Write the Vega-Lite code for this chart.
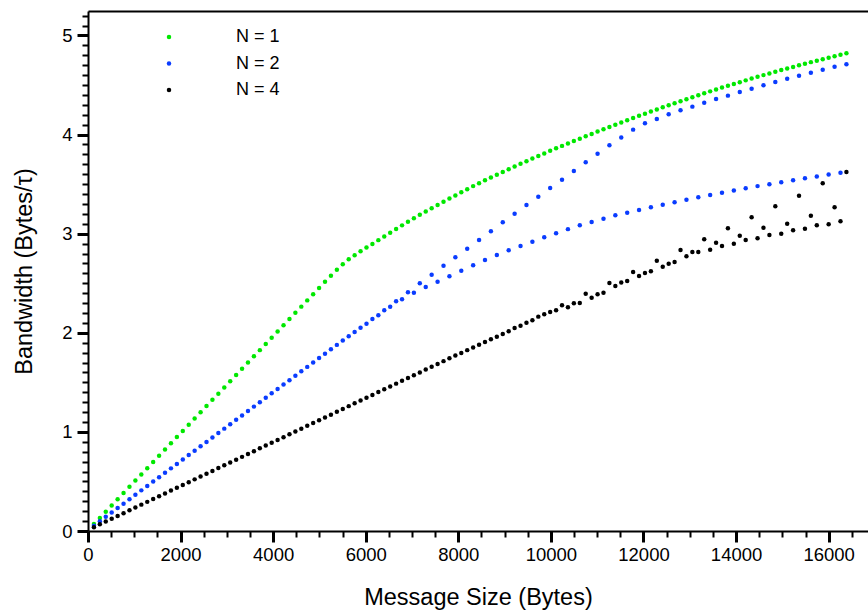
{
 "$schema": "https://vega.github.io/schema/vega-lite/v6.json",
 "width": 780, "height": 520,
 "autosize": {"type": "none"},
 "padding": {"left": 88, "top": 11, "right": 0, "bottom": 83},
 "background": "white",
 "config": {"view": {"stroke": null}, "font": "Liberation Sans"},
 "data": {"values": [
{"b":128,"n1":0.070,"n2":0.054,"n4":0.038},
{"b":256,"n1":0.132,"n2":0.098,"n4":0.067},
{"b":384,"n1":0.195,"n2":0.143,"n4":0.095},
{"b":512,"n1":0.258,"n2":0.187,"n4":0.124},
{"b":640,"n1":0.321,"n2":0.232,"n4":0.152},
{"b":768,"n1":0.383,"n2":0.276,"n4":0.180},
{"b":896,"n1":0.446,"n2":0.321,"n4":0.209},
{"b":1024,"n1":0.509,"n2":0.365,"n4":0.237},
{"b":1152,"n1":0.571,"n2":0.410,"n4":0.266},
{"b":1280,"n1":0.634,"n2":0.454,"n4":0.294},
{"b":1408,"n1":0.697,"n2":0.499,"n4":0.322},
{"b":1536,"n1":0.759,"n2":0.543,"n4":0.351},
{"b":1664,"n1":0.822,"n2":0.588,"n4":0.379},
{"b":1792,"n1":0.885,"n2":0.632,"n4":0.408},
{"b":1920,"n1":0.948,"n2":0.677,"n4":0.436},
{"b":2048,"n1":1.010,"n2":0.721,"n4":0.464},
{"b":2176,"n1":1.073,"n2":0.766,"n4":0.493},
{"b":2304,"n1":1.136,"n2":0.810,"n4":0.521},
{"b":2432,"n1":1.198,"n2":0.855,"n4":0.550},
{"b":2560,"n1":1.261,"n2":0.899,"n4":0.578},
{"b":2688,"n1":1.324,"n2":0.944,"n4":0.606},
{"b":2816,"n1":1.386,"n2":0.988,"n4":0.635},
{"b":2944,"n1":1.449,"n2":1.033,"n4":0.663},
{"b":3072,"n1":1.512,"n2":1.077,"n4":0.692},
{"b":3200,"n1":1.575,"n2":1.122,"n4":0.720},
{"b":3328,"n1":1.637,"n2":1.166,"n4":0.748},
{"b":3456,"n1":1.700,"n2":1.211,"n4":0.777},
{"b":3584,"n1":1.763,"n2":1.255,"n4":0.805},
{"b":3712,"n1":1.825,"n2":1.300,"n4":0.834},
{"b":3840,"n1":1.888,"n2":1.344,"n4":0.862},
{"b":3968,"n1":1.951,"n2":1.389,"n4":0.890},
{"b":4096,"n1":2.013,"n2":1.433,"n4":0.919},
{"b":4224,"n1":2.076,"n2":1.478,"n4":0.947},
{"b":4352,"n1":2.139,"n2":1.522,"n4":0.976},
{"b":4480,"n1":2.202,"n2":1.567,"n4":1.004},
{"b":4608,"n1":2.264,"n2":1.611,"n4":1.032},
{"b":4736,"n1":2.327,"n2":1.656,"n4":1.061},
{"b":4864,"n1":2.390,"n2":1.700,"n4":1.089},
{"b":4992,"n1":2.452,"n2":1.745,"n4":1.118},
{"b":5120,"n1":2.514,"n2":1.789,"n4":1.146},
{"b":5248,"n1":2.576,"n2":1.834,"n4":1.174},
{"b":5376,"n1":2.637,"n2":1.878,"n4":1.203},
{"b":5504,"n1":2.691,"n2":1.923,"n4":1.231},
{"b":5632,"n1":2.742,"n2":1.965,"n4":1.260},
{"b":5760,"n1":2.782,"n2":2.007,"n4":1.288},
{"b":5888,"n1":2.822,"n2":2.050,"n4":1.316},
{"b":6016,"n1":2.860,"n2":2.092,"n4":1.345},
{"b":6144,"n1":2.897,"n2":2.140,"n4":1.373},
{"b":6272,"n1":2.935,"n2":2.178,"n4":1.402},
{"b":6400,"n1":2.972,"n2":2.228,"n4":1.430},
{"b":6528,"n1":3.010,"n2":2.262,"n4":1.458},
{"b":6656,"n1":3.047,"n2":2.318,"n4":1.487},
{"b":6784,"n1":3.084,"n2":2.338,"n4":1.515},
{"b":6912,"n1":3.120,"n2":2.409,"n4":1.544},
{"b":7040,"n1":3.156,"n2":2.404,"n4":1.572},
{"b":7168,"n1":3.190,"n2":2.500,"n4":1.600},
{"b":7296,"n1":3.224,"n2":2.462,"n4":1.629},
{"b":7424,"n1":3.257,"n2":2.586,"n4":1.657},
{"b":7552,"n1":3.290,"n2":2.516,"n4":1.686},
{"b":7680,"n1":3.322,"n2":2.676,"n4":1.714},
{"b":7808,"n1":3.354,"n2":2.571,"n4":1.742},
{"b":7936,"n1":3.386,"n2":2.762,"n4":1.770},
{"b":8064,"n1":3.418,"n2":2.627,"n4":1.797},
{"b":8192,"n1":3.449,"n2":2.849,"n4":1.825},
{"b":8320,"n1":3.480,"n2":2.681,"n4":1.852},
{"b":8448,"n1":3.510,"n2":2.936,"n4":1.880},
{"b":8576,"n1":3.539,"n2":2.735,"n4":1.907},
{"b":8704,"n1":3.567,"n2":3.024,"n4":1.934},
{"b":8832,"n1":3.595,"n2":2.785,"n4":1.961},
{"b":8960,"n1":3.623,"n2":3.115,"n4":1.988},
{"b":9088,"n1":3.651,"n2":2.832,"n4":2.015},
{"b":9216,"n1":3.678,"n2":3.202,"n4":2.048},
{"b":9344,"n1":3.705,"n2":2.876,"n4":2.072},
{"b":9472,"n1":3.732,"n2":3.290,"n4":2.102},
{"b":9600,"n1":3.758,"n2":2.919,"n4":2.126},
{"b":9728,"n1":3.784,"n2":3.373,"n4":2.163},
{"b":9856,"n1":3.810,"n2":2.963,"n4":2.187},
{"b":9984,"n1":3.836,"n2":3.461,"n4":2.210},
{"b":10112,"n1":3.861,"n2":3.004,"n4":2.228},
{"b":10240,"n1":3.886,"n2":3.545,"n4":2.277},
{"b":10368,"n1":3.911,"n2":3.046,"n4":2.257},
{"b":10496,"n1":3.935,"n2":3.633,"n4":2.298},
{"b":10624,"n1":3.959,"n2":3.085,"n4":2.300},
{"b":10752,"n1":3.983,"n2":3.721,"n4":2.395},
{"b":10880,"n1":4.007,"n2":3.118,"n4":2.354},
{"b":11008,"n1":4.031,"n2":3.807,"n4":2.390},
{"b":11136,"n1":4.054,"n2":3.151,"n4":2.405},
{"b":11264,"n1":4.077,"n2":3.892,"n4":2.502},
{"b":11392,"n1":4.100,"n2":3.186,"n4":2.472},
{"b":11520,"n1":4.123,"n2":3.971,"n4":2.508},
{"b":11648,"n1":4.145,"n2":3.212,"n4":2.523},
{"b":11776,"n1":4.167,"n2":4.050,"n4":2.614},
{"b":11904,"n1":4.189,"n2":3.240,"n4":2.573},
{"b":12032,"n1":4.211,"n2":4.115,"n4":2.604},
{"b":12160,"n1":4.233,"n2":3.266,"n4":2.620},
{"b":12288,"n1":4.254,"n2":4.157,"n4":2.728},
{"b":12416,"n1":4.275,"n2":3.293,"n4":2.667},
{"b":12544,"n1":4.296,"n2":4.205,"n4":2.697},
{"b":12672,"n1":4.317,"n2":3.317,"n4":2.714},
{"b":12800,"n1":4.337,"n2":4.245,"n4":2.836},
{"b":12928,"n1":4.357,"n2":3.343,"n4":2.772},
{"b":13056,"n1":4.377,"n2":4.282,"n4":2.815},
{"b":13184,"n1":4.397,"n2":3.367,"n4":2.815},
{"b":13312,"n1":4.417,"n2":4.322,"n4":2.943},
{"b":13440,"n1":4.436,"n2":3.391,"n4":2.839},
{"b":13568,"n1":4.455,"n2":4.359,"n4":2.909},
{"b":13696,"n1":4.474,"n2":3.414,"n4":2.876},
{"b":13824,"n1":4.493,"n2":4.393,"n4":3.054},
{"b":13952,"n1":4.511,"n2":3.435,"n4":2.899},
{"b":14080,"n1":4.529,"n2":4.430,"n4":2.980},
{"b":14208,"n1":4.547,"n2":3.458,"n4":2.936},
{"b":14336,"n1":4.565,"n2":4.462,"n4":3.165},
{"b":14464,"n1":4.583,"n2":3.480,"n4":2.954},
{"b":14592,"n1":4.600,"n2":4.497,"n4":3.061},
{"b":14720,"n1":4.617,"n2":3.499,"n4":2.987},
{"b":14848,"n1":4.634,"n2":4.531,"n4":3.276},
{"b":14976,"n1":4.651,"n2":3.519,"n4":3.000},
{"b":15104,"n1":4.667,"n2":4.564,"n4":3.101},
{"b":15232,"n1":4.683,"n2":3.539,"n4":3.034},
{"b":15360,"n1":4.699,"n2":4.594,"n4":3.383},
{"b":15488,"n1":4.715,"n2":3.559,"n4":3.050},
{"b":15616,"n1":4.731,"n2":4.625,"n4":3.182},
{"b":15744,"n1":4.746,"n2":3.578,"n4":3.085},
{"b":15872,"n1":4.761,"n2":4.655,"n4":3.509},
{"b":16000,"n1":4.776,"n2":3.597,"n4":3.095},
{"b":16128,"n1":4.791,"n2":4.684,"n4":3.266},
{"b":16256,"n1":4.806,"n2":3.616,"n4":3.125},
{"b":16384,"n1":4.821,"n2":4.709,"n4":3.623}
 ]},
 "transform": [{"fold": ["n1", "n2", "n4"], "as": ["series", "v"]}],
 "layer": [
  {
   "mark": {"type": "point", "filled": true, "size": 20, "opacity": 1},
   "encoding": {
    "x": {"field": "b", "type": "quantitative",
     "scale": {"domain": [0, 16850], "nice": false, "zero": false},
     "axis": {
      "values": [0,500,1000,1500,2000,2500,3000,3500,4000,4500,5000,5500,6000,6500,7000,7500,8000,8500,9000,9500,10000,10500,11000,11500,12000,12500,13000,13500,14000,14500,15000,15500,16000,16500],
      "tickCount": 500, "tickMinStep": 1,
      "labelExpr": "datum.value % 2000 === 0 ? format(datum.value, 'd') : ''",
      "tickSize": {"condition": {"test": "datum.value % 2000 === 0", "value": 11}, "value": 6},
      "tickWidth": {"condition": {"test": "datum.value % 2000 === 0", "value": 3}, "value": 2},
      "tickColor": "black", "domainColor": "black", "domainWidth": 2,
      "labelFontSize": 18.5, "labelColor": "black", "labelPadding": 3,
      "labelOverlap": false, "labelFlush": false, "grid": false,
      "title": "Message Size (Bytes)", "titleFontSize": 23.5, "titleFontWeight": "normal",
      "titleColor": "black", "titlePadding": 22
     }},
    "y": {"field": "v", "type": "quantitative",
     "scale": {"domain": [0, 5.247], "nice": false},
     "axis": {
      "values": [0,0.1,0.2,0.3,0.4,0.5,0.6,0.7,0.8,0.9,1,1.1,1.2,1.3,1.4,1.5,1.6,1.7,1.8,1.9,2,2.1,2.2,2.3,2.4,2.5,2.6,2.7,2.8,2.9,3,3.1,3.2,3.3,3.4,3.5,3.6,3.7,3.8,3.9,4,4.1,4.2,4.3,4.4,4.5,4.6,4.7,4.8,4.9,5,5.1,5.2],
      "tickCount": 500, "tickMinStep": 0.01,
      "labelExpr": "abs(datum.value - round(datum.value)) < 0.001 ? format(datum.value, 'd') : ''",
      "tickSize": {"condition": {"test": "abs(datum.value - round(datum.value)) < 0.001", "value": 11}, "value": 6},
      "tickWidth": {"condition": {"test": "abs(datum.value - round(datum.value)) < 0.001", "value": 3}, "value": 2},
      "tickColor": "black", "domainColor": "black", "domainWidth": 2,
      "labelFontSize": 18.5, "labelColor": "black", "labelPadding": 5,
      "labelOverlap": false, "labelFlush": false, "grid": false,
      "title": "Bandwidth (Bytes/τ)", "titleFontSize": 23.5, "titleFontWeight": "normal",
      "titleColor": "black", "titlePadding": 25
     }},
    "color": {"field": "series", "type": "nominal",
     "scale": {"domain": ["n1", "n2", "n4"], "range": ["#00e800", "#0a3cff", "#000000"]},
     "legend": {"orient": "none", "legendX": 72, "legendY": 17, "title": null, "padding": 0,
      "labelExpr": "datum.label == 'n1' ? 'N = 1' : (datum.label == 'n2' ? 'N = 2' : 'N = 4')",
      "labelFontSize": 18, "labelColor": "black", "labelOffset": 58,
      "symbolSize": 20, "symbolType": "circle", "symbolStrokeWidth": 0, "rowPadding": 8.5}}
   }
  },
  {
   "mark": {"type": "point", "opacity": 0},
   "encoding": {
    "x": {"field": "b", "type": "quantitative",
     "axis": {"orient": "top", "labels": false, "ticks": false, "title": null, "grid": false,
      "domainColor": "black", "domainWidth": 2}},
    "y": {"field": "v", "type": "quantitative", "axis": null}
   }
  }
 ],
 "resolve": {"axis": {"x": "independent", "y": "independent"}}
}
